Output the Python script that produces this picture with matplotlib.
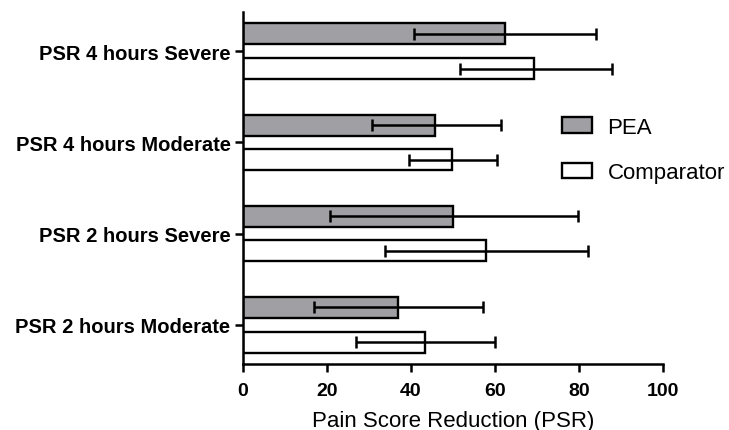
import numpy as np
import matplotlib
matplotlib.use("Agg")
import matplotlib.pyplot as plt
from matplotlib.patches import Patch

plt.rcParams['font.family'] = ['Liberation Sans', 'DejaVu Sans']

# bottom to top
categories = ["PSR 2 hours Moderate", "PSR 2 hours Severe",
              "PSR 4 hours Moderate", "PSR 4 hours Severe"]
pea = [36.8, 50.0, 45.6, 62.3]
pea_low = [16.8, 20.8, 30.6, 40.7]
pea_high = [57.1, 79.8, 61.5, 84.1]
comp = [43.4, 57.8, 49.8, 69.4]
comp_low = [27.0, 33.9, 39.5, 51.6]
comp_high = [60.1, 82.1, 60.5, 87.9]

fig = plt.figure(figsize=(7.29, 4.31), dpi=100)
ax = fig.add_axes([243 / 729, 1 - 365 / 431, 420 / 729, 352 / 431])

y = np.arange(len(categories))
off = 0.19
h = 0.23
edge_lw = 1.7

pea_err = [np.array(pea) - np.array(pea_low), np.array(pea_high) - np.array(pea)]
comp_err = [np.array(comp) - np.array(comp_low), np.array(comp_high) - np.array(comp)]

ax.barh(y + off, pea, height=h, color='#a0a0a4', edgecolor='black', linewidth=edge_lw, zorder=2)
ax.barh(y - off, comp, height=h, color='white', edgecolor='black', linewidth=edge_lw, zorder=2)
ax.errorbar(pea, y + off, xerr=pea_err, fmt='none', ecolor='black', elinewidth=1.8,
            capsize=4.3, capthick=1.8, zorder=3)
ax.errorbar(comp, y - off, xerr=comp_err, fmt='none', ecolor='black', elinewidth=1.8,
            capsize=4.3, capthick=1.8, zorder=3)

ax.set_xlim(0, 100)
ax.set_ylim(-0.43, 3.43)
ax.set_xticks([0, 20, 40, 60, 80, 100])
ax.set_yticks(y)
ax.set_yticklabels(categories)
for s in ['top', 'right']:
    ax.spines[s].set_visible(False)
for s in ['left', 'bottom']:
    ax.spines[s].set_linewidth(1.8)
ax.tick_params(axis='both', width=1.8, length=6)
ax.tick_params(axis='x', labelsize=14, pad=7)
ax.tick_params(axis='y', labelsize=14.5, pad=3)
for lab in ax.get_xticklabels() + ax.get_yticklabels():
    lab.set_fontweight('bold')
ax.set_xlabel("Pain Score Reduction (PSR)", fontsize=16, labelpad=8)

handles = [Patch(facecolor='#a0a0a4', edgecolor='black', linewidth=edge_lw, label='PEA'),
           Patch(facecolor='white', edgecolor='black', linewidth=edge_lw, label='Comparator')]
fig.legend(handles=handles, loc='upper left', bbox_to_anchor=(562 / 729, 1 - 118 / 431),
           frameon=False, fontsize=16, handlelength=1.35, handleheight=0.7,
           labelspacing=1.1, handletextpad=0.7, borderpad=0, borderaxespad=0)

fig.savefig("out.png", dpi=100)
